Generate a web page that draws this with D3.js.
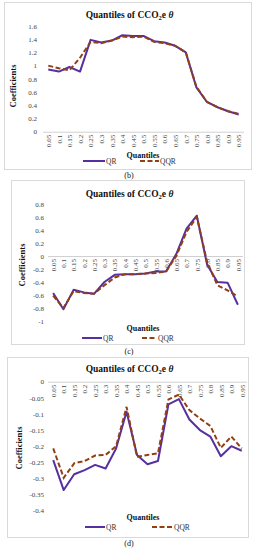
<!DOCTYPE html>
<html>
<head>
<meta charset="utf-8">
<script src="https://cdn.jsdelivr.net/npm/d3@7"></script>
<style>
  html, body { margin: 0; padding: 0; background: #fff; }
  svg { display: block; font-family: "Liberation Serif", "Times New Roman", serif; }
</style>
</head>
<body>
<div id="chartContainer"></div>
<script>
// quantile categories shared by the three panels
const quantiles = ["0.05", "0.1", "0.15", "0.2", "0.25", "0.3", "0.35", "0.4", "0.45", "0.5",
    "0.55", "0.6", "0.65", "0.7", "0.75", "0.8", "0.85", "0.9", "0.95"];

// panel (b)
const qrB = [0.94, 0.91, 0.98, 0.91, 1.39, 1.35, 1.38, 1.46, 1.45, 1.45, 1.37, 1.35, 1.30, 1.20, 0.67, 0.45, 0.37, 0.31, 0.26];
const qqrB = [1.00, 0.96, 0.93, 1.12, 1.36, 1.34, 1.38, 1.44, 1.43, 1.44, 1.36, 1.34, 1.30, 1.20, 0.68, 0.45, 0.37, 0.31, 0.27];
const ticksB = [0, 0.2, 0.4, 0.6, 0.8, 1, 1.2, 1.4, 1.6];

// panel (c)
const qrC = [-0.57, -0.82, -0.52, -0.56, -0.58, -0.40, -0.29, -0.28, -0.28, -0.27, -0.24, -0.24, 0.03, 0.42, 0.62, -0.13, -0.40, -0.41, -0.75];
const qqrC = [-0.61, -0.80, -0.54, -0.57, -0.58, -0.45, -0.33, -0.28, -0.28, -0.27, -0.26, -0.24, 0.00, 0.37, 0.60, -0.09, -0.45, -0.53, -0.62];
const ticksC = [-1, -0.8, -0.6, -0.4, -0.2, 0, 0.2, 0.4, 0.6, 0.8];

// panel (d)
const qrD = [-0.243, -0.336, -0.287, -0.274, -0.258, -0.269, -0.207, -0.093, -0.227, -0.256, -0.246, -0.070, -0.054, -0.117, -0.150, -0.170, -0.231, -0.200, -0.214];
const qqrD = [-0.207, -0.298, -0.253, -0.246, -0.229, -0.227, -0.200, -0.078, -0.233, -0.227, -0.222, -0.055, -0.040, -0.088, -0.114, -0.137, -0.205, -0.170, -0.207];
const ticksD = [-0.4, -0.35, -0.3, -0.25, -0.2, -0.15, -0.1, -0.05, 0];

const seriesNames = ["QR", "QQR"];
const qrColor = "#5530a0";
const qqrColor = "#933f14";

const width = 258;
const height = 550;

const svg = d3.create("svg")
    .attr("width", width)
    .attr("height", height)
    .attr("viewBox", [0, 0, width, height]);

document.getElementById('chartContainer').appendChild(svg.node());

const panels = [
    { qr: qrB, qqr: qqrB, ticks: ticksB, label: "(b)",
      box: [4, 2, 251, 169], titleY: 18, xRange: [43, 244], yRange: [131.7, 26],
      yLabelX: 37, coefX: 13, coefY: 86, quantY: 157.5, legendY: 161, legQR: [83, 105], legQQR: [140, 159], capY: 178 },
    { qr: qrC, qqr: qqrC, ticks: ticksC, label: "(c)",
      box: [11, 180, 244, 344], titleY: 197, xRange: [48, 243], yRange: [321, 204],
      yLabelX: 44, coefX: 22, coefY: 265, quantY: 331, legendY: 338, legQR: [82, 102], legQQR: [142, 157], capY: 354 },
    { qr: qrD, qqr: qqrD, ticks: ticksD, label: "(d)",
      box: [7, 357, 248, 537], titleY: 372, xRange: [48, 247], yRange: [510.7, 381.7],
      yLabelX: 44, coefX: 19, coefY: 448, quantY: 520, legendY: 527, legQR: [85, 105], legQQR: [152, 173], capY: 546 }
];

panels.forEach(p => {
    const g = svg.append("g");
    const [bx0, by0, bx1, by1] = p.box;

    // chart area border
    g.append("rect")
        .attr("x", bx0 + 0.5).attr("y", by0 + 0.5)
        .attr("width", bx1 - bx0).attr("height", by1 - by0)
        .attr("fill", "#fff")
        .attr("stroke", "#d9d9d9")
        .attr("stroke-width", 1);

    const x = d3.scalePoint().domain(quantiles).range(p.xRange).padding(0.5);
    const y = d3.scaleLinear()
        .domain([d3.min(p.ticks), d3.max(p.ticks)])
        .range(p.yRange);

    // title
    const title = g.append("text")
        .attr("x", (bx0 + bx1) / 2 + 2)
        .attr("y", p.titleY)
        .attr("text-anchor", "middle")
        .attr("font-size", 9.5)
        .attr("font-weight", "bold")
        .attr("fill", "#111");
    title.append("tspan").text("Quantiles of CCO");
    title.append("tspan").attr("font-size", 6.5).attr("dy", 2).text("2");
    title.append("tspan").attr("dy", -2).text("e ");
    title.append("tspan").attr("font-style", "italic").text("θ");

    // y axis (labels only)
    const yAxis = g.append("g")
        .attr("transform", `translate(${p.yLabelX + 3},0)`)
        .call(d3.axisLeft(y).tickValues(p.ticks).tickSize(0).tickPadding(3).tickFormat(d => String(d)));
    yAxis.select(".domain").remove();
    yAxis.selectAll("text")
        .attr("font-family", "Liberation Serif, serif")
        .attr("font-size", 7)
        .attr("fill", "#444");

    // x axis at zero
    const xAxis = g.append("g")
        .attr("transform", `translate(0,${y(0)})`)
        .call(d3.axisBottom(x).tickSize(0).tickSizeOuter(0));
    xAxis.select(".domain")
        .attr("d", `M${p.xRange[0]},0.5H${p.xRange[1]}`)
        .attr("stroke", "#d0d0d0");
    xAxis.selectAll("text")
        .attr("font-family", "Liberation Serif, serif")
        .attr("font-size", 7)
        .attr("fill", "#444")
        .attr("transform", "rotate(-90)")
        .attr("x", -3)
        .attr("y", 0)
        .attr("dy", "0.32em")
        .style("text-anchor", "end");

    // axis titles
    g.append("text")
        .attr("transform", `translate(${p.coefX},${p.coefY}) rotate(-90)`)
        .attr("text-anchor", "middle")
        .attr("dy", "0.35em")
        .attr("font-size", 8.5)
        .attr("font-weight", "bold")
        .attr("fill", "#111")
        .text("Coefficients");

    g.append("text")
        .attr("x", 143)
        .attr("y", p.quantY)
        .attr("text-anchor", "middle")
        .attr("font-size", 8)
        .attr("font-weight", "bold")
        .attr("fill", "#111")
        .text("Quantiles");

    // lines
    const line = d3.line()
        .x((d, i) => x(quantiles[i]))
        .y(d => y(d));

    g.append("path")
        .attr("fill", "none")
        .attr("stroke", qrColor)
        .attr("stroke-width", 2)
        .attr("stroke-linejoin", "round")
        .attr("d", line(p.qr));

    g.append("path")
        .attr("fill", "none")
        .attr("stroke", qqrColor)
        .attr("stroke-width", 2)
        .attr("stroke-dasharray", "5,2.5")
        .attr("d", line(p.qqr));

    // legend
    const legendItems = [
        { name: seriesNames[0], color: qrColor, dash: null, span: p.legQR },
        { name: seriesNames[1], color: qqrColor, dash: "5,2.5", span: p.legQQR }
    ];
    legendItems.forEach(item => {
        g.append("line")
            .attr("x1", item.span[0]).attr("x2", item.span[1])
            .attr("y1", p.legendY).attr("y2", p.legendY)
            .attr("stroke", item.color)
            .attr("stroke-width", 2)
            .attr("stroke-dasharray", item.dash);
        g.append("text")
            .attr("x", item.span[1] + 1)
            .attr("y", p.legendY)
            .attr("dy", "0.35em")
            .attr("font-size", 7.5)
            .attr("fill", "#333")
            .text(item.name);
    });

    // panel caption
    g.append("text")
        .attr("x", 129)
        .attr("y", p.capY)
        .attr("text-anchor", "middle")
        .attr("font-size", 8)
        .attr("fill", "#111")
        .text(p.label);
});
</script>
</body>
</html>
